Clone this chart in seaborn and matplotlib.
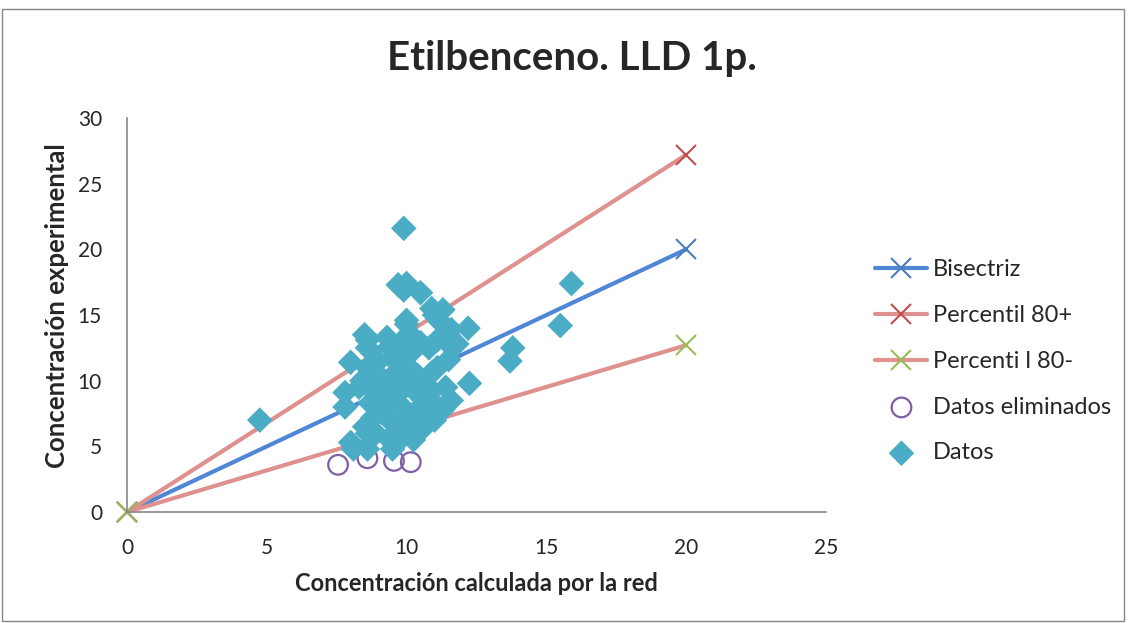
import matplotlib
matplotlib.use('Agg')
import matplotlib.pyplot as plt
import seaborn as sns
import pandas as pd
from matplotlib.patches import Rectangle

# Lineas de referencia (extremos)
linea_x = [0, 20]
bisectriz_y = [0, 20]
p80_mas_y = [0, 27.2]
p80_menos_y = [0, 12.7]

# Datos (concentracion calculada, experimental)
datos_x = [4.75, 9.9, 15.9, 15.5, 13.8, 13.7, 12.25, 12.2,
           9.7, 10.0, 9.9, 10.5, 10.9, 11.3, 11.0, 11.2, 11.6, 10.0, 10.0, 11.8, 11.6,
           8.5, 8.6, 8.6, 8.0, 9.3, 9.4, 10.1, 9.9, 10.5, 10.8, 11.1, 10.2, 9.7,
           8.6, 8.7, 7.8, 7.8, 8.3, 8.8, 9.2, 9.6, 10.0, 10.4, 10.9, 11.1, 11.5, 11.4,
           11.6, 11.3, 11.0, 10.6, 10.25, 10.1,
           8.7, 9.0, 9.3, 9.7, 10.0, 10.3, 10.6, 10.9, 9.5, 9.9, 10.3, 10.7, 9.1, 8.8,
           9.4, 9.8, 10.2, 8.5, 8.9, 9.6, 9.9,
           8.0, 8.1, 8.6, 8.6, 9.4, 9.5, 11.0, 10.5, 8.4, 9.0, 9.5]
datos_y = [7.0, 21.6, 17.4, 14.2, 12.5, 11.5, 9.8, 14.0,
           17.3, 17.4, 16.9, 16.7, 15.5, 15.4, 15.0, 14.5, 13.9, 14.6, 14.3, 12.8, 12.6,
           13.5, 13.1, 12.5, 11.4, 13.3, 12.6, 13.6, 13.1, 12.9, 12.5, 13.1, 12.2, 12.0,
           11.0, 10.3, 9.1, 8.0, 9.5, 9.2, 10.0, 10.6, 11.2, 10.4, 10.6, 11.0, 11.6, 9.5,
           8.5, 7.8, 7.0, 6.4, 5.5, 6.2,
           8.3, 8.8, 9.3, 9.0, 9.8, 9.2, 8.7, 9.3, 8.2, 7.9, 7.6, 7.8, 7.6, 7.2,
           7.0, 6.8, 7.0, 6.5, 6.0, 6.1, 5.8,
           5.3, 4.8, 6.0, 4.8, 5.5, 4.8, 8.3, 10.0, 10.0, 11.5, 11.7]

# Datos eliminados
elim_x = [7.55, 8.6, 9.55, 10.15]
elim_y = [3.6, 4.1, 3.9, 3.8]

df = pd.DataFrame({'x': datos_x, 'y': datos_y})
df_elim = pd.DataFrame({'x': elim_x, 'y': elim_y})

sns.set_style('white')
plt.rcParams['font.family'] = ['Lato', 'DejaVu Sans']

fig = plt.figure(figsize=(11.29, 6.23), dpi=100)
ax = fig.add_axes([0.1125, 0.178, 0.619, 0.6326])

estilo_x = dict(lw=3, marker='x', markersize=14, markeredgewidth=1.5, clip_on=False)
sns.lineplot(x=linea_x, y=bisectriz_y, ax=ax, color='#4F86D6', markeredgecolor='#4A7EBB',
             label='Bisectriz', **estilo_x)
sns.lineplot(x=linea_x, y=p80_mas_y, ax=ax, color='#DE918F', markeredgecolor='#C0504D',
             label='Percentil 80+', **estilo_x)
sns.lineplot(x=linea_x, y=p80_menos_y, ax=ax, color='#DE918F', markeredgecolor='#9BBB59',
             label='Percenti l 80-', **estilo_x)
sns.scatterplot(data=df_elim, x='x', y='y', ax=ax, marker='o', s=200, facecolor='none',
                edgecolor='#7F5FA6', linewidth=1.6, label='Datos eliminados', zorder=3)
sns.scatterplot(data=df, x='x', y='y', ax=ax, marker='D', s=170, color='#4AACC5',
                edgecolor='none', label='Datos', zorder=4)

ax.set_xlim(0, 25)
ax.set_ylim(0, 30)
ax.set_xticks(range(0, 26, 5))
ax.set_yticks(range(0, 31, 5))
ax.tick_params(axis='both', labelsize=15, length=0)
ax.tick_params(axis='x', pad=19)
ax.tick_params(axis='y', pad=18)
for s in ['top', 'right']:
    ax.spines[s].set_visible(False)
for s in ['left', 'bottom']:
    ax.spines[s].set_color('#868686')
    ax.spines[s].set_linewidth(1.2)

ax.set_xlabel('Concentración calculada por la red', fontsize=17, fontweight='bold', labelpad=10)
ax.set_ylabel('Concentración experimental', fontsize=18.5, fontweight='bold')
ax.yaxis.set_label_coords(-0.083, 0.525)
fig.suptitle('Etilbenceno. LLD 1p.', fontsize=29, fontweight='bold', x=0.507, y=0.935)

ax.legend(loc='center left', bbox_to_anchor=(0.765, 0.42), bbox_transform=fig.transFigure,
          frameon=False, fontsize=17, handlelength=2.2, labelspacing=1.05, borderpad=0,
          handletextpad=0.25)

fig.patches.append(Rectangle((0.002, 0.004), 0.994, 0.982, transform=fig.transFigure,
                             fill=False, edgecolor='#868686', lw=1))

fig.savefig('out.png', dpi=100)
